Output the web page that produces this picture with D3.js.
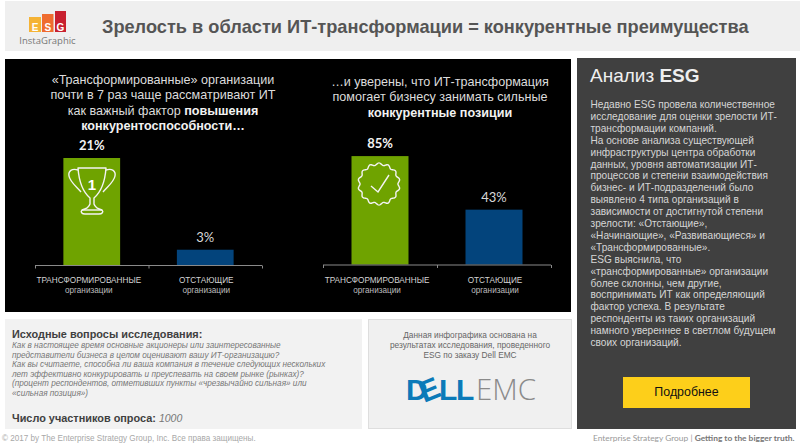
<!DOCTYPE html>
<html lang="ru"><head><meta charset="utf-8">
<script src="https://cdn.jsdelivr.net/npm/d3@7"></script>
<style>html,body{margin:0;padding:0;background:#fff}svg{display:block}text{font-family:"Liberation Sans",Arial,sans-serif}</style>
</head><body><svg id="c" width="800" height="444"></svg>
<script>
const categories=["ТРАНСФОРМИРОВАННЫЕ","ОТСТАЮЩИЕ"];
const categorySub=["организации","организации"];
const valuesLeft=[21,3];
const valuesRight=[85,43];
const colors=["#6fa300","#03447c"];
const titleText="Зрелость в области ИТ-трансформации = конкурентные преимущества";
const headLeft=[["«Трансформированные» организации"],["почти в 7 раз чаще рассматривают ИТ"],["как важный фактор ","повышения"],["","конкурентоспособности…"]];
const headRight=[["…и уверены, что ИТ-трансформация"],["помогает бизнесу занимать сильные"],["","конкурентные позиции"]];
const bodyLines=["Недавно ESG провела количественное","исследование для оценки зрелости ИТ-","трансформации компаний.","На основе анализа существующей","инфраструктуры центра обработки","данных, уровня автоматизации ИТ-","процессов и степени взаимодействия","бизнес- и ИТ-подразделений было","выявлено 4 типа организаций в","зависимости от достигнутой степени","зрелости: «Отстающие»,","«Начинающие», «Развивающиеся» и","«Трансформированные».","ESG выяснила, что","«трансформированные» организации","более склонны, чем другие,","воспринимать ИТ как определяющий","фактор успеха. В результате","респонденты из таких организаций","намного увереннее в светлом будущем","своих организаций."];
const questionLines=["Как в настоящее время основные акционеры или заинтересованные","представители бизнеса в целом оценивают вашу ИТ-организацию?","Как вы считаете, способна ли ваша компания в течение следующих нескольких","лет эффективно конкурировать и преуспевать на своем рынке (рынках)?","(процент респондентов, отметивших пункты «чрезвычайно сильная» или","«сильная позиция»)"];
const sponsorLines=["Данная инфографика основана на","результатах исследования, проведенного","ESG по заказу Dell EMC"];

const svg=d3.select("#c");
const T=(x,y,s,o={})=>svg.append("text").attr("x",x).attr("y",y).text(s)
  .attr("font-size",o.size||10).attr("fill",o.fill||"#000").attr("text-anchor",o.anchor||"start")
  .attr("font-weight",o.weight||"normal").attr("font-style",o.style||"normal").style("font-family",o.family||null);
const R=(x,y,w,h,f,st)=>svg.append("rect").attr("x",x).attr("y",y).attr("width",w).attr("height",h).attr("fill",f).attr("stroke",st||"none");

// panels
R(5,1,795,50,"#efefef");
R(5,59,566,253,"#000");
R(577,58,219,371,"#404040");
R(5,319,357,110,"#f2f2f2");
R(368.5,319.5,203,109,"#f0f0f0","#dedede");

// logo
[[29,17,12,15,"#f5b335","E"],[42,14,11.5,18,"#ef6c2f","S"],[55,11,11,21,"#c8202f","G"]].forEach(d=>{
  R(d[0],d[1],d[2],d[3],d[4]);
  T(d[0]+d[2]/2,31,d[5],{size:10,fill:"#fff",weight:"bold",anchor:"middle"});
});
T(47.5,44,"InstaGraphic",{size:9.5,fill:"#777",anchor:"middle",family:"'Open Sans'"});
T(102,33,titleText,{size:18.2,fill:"#555",weight:"bold"});

// headings
function heading(lines,cx,y0,dy){
  lines.forEach((l,i)=>{
    const t=T(cx,y0+i*dy,null,{size:12.6,anchor:"middle",fill:"#dcdcdc"});
    t.append("tspan").text(l[0]);
    if(l[1]) t.append("tspan").attr("font-weight","bold").attr("fill","#f2f2f2").text(l[1]);
  });
}
heading(headLeft,163,84,15.3);
heading(headRight,440,86,15.4);

// charts
function chart(vals,x0,x1,base,pxMax,vMax){
  const x=d3.scaleBand().domain(categories).range([x0,x1]).paddingInner(.5).paddingOuter(.25);
  const y=d3.scaleLinear().domain([0,vMax]).range([base,base-pxMax]);
  const g=svg.append("g");
  g.selectAll("rect").data(vals).join("rect")
    .attr("x",(d,i)=>x(categories[i])).attr("width",x.bandwidth())
    .attr("y",d=>y(d)).attr("height",d=>base-y(d)).attr("fill",(d,i)=>colors[i]);
  g.selectAll("text.v").data(vals).join("text").attr("class","v")
    .attr("x",(d,i)=>x(categories[i])+x.bandwidth()/2).attr("y",d=>y(d)-8)
    .attr("text-anchor","middle").attr("fill",(d,i)=>i?"#d8d8d8":"#f2f2f2").attr("font-size",13)
    .attr("font-weight",(d,i)=>i?"normal":"bold").style("font-family","Lato").text(d=>d+"%");
  const b=d3.scaleLinear().domain([0,1]).range([x0,x1]);
  const ax=svg.append("g").attr("transform",`translate(0,${base+.5})`)
    .call(d3.axisBottom(b).tickValues([0,.5,1]).tickSize(3).tickFormat(""));
  ax.selectAll("path").attr("stroke","#8a8a8a").attr("d",`M${x0},0H${x1}`);
  ax.selectAll("line").attr("stroke","#8a8a8a");
  categories.forEach((c,i)=>{
    const cx=x(c)+x.bandwidth()/2-(i?-1:3);
    T(cx,base+18,c,{size:8.2,anchor:"middle",fill:"#d4d4d4"});
    T(cx,base+28,categorySub[i],{size:8.2,anchor:"middle",fill:"#bdbdbd"});
  });
  return {x,y};
}
chart(valuesLeft,35,262,265,107,21);
chart(valuesRight,323,551,264.5,108.4,85);

// trophy icon
const tro=svg.append("g").attr("transform","translate(92,168)").attr("fill","none").attr("stroke","#f4f4f4").attr("stroke-width",1.4).attr("stroke-linejoin","round");
tro.append("path").attr("d","M-14,0H14C13,14 9,24 2,30V36C3,39 6,41 10,42C12,44 10,46 7,46H-7C-10,46 -12,44 -10,42C-6,41 -3,39 -2,36V30C-9,24 -13,14 -14,0Z");
tro.append("path").attr("d","M-14,2C-20,0 -24,3 -23,8C-22,14 -15,19 -11,24");
tro.append("path").attr("d","M14,2C20,0 24,3 23,8C22,14 15,19 11,24");
tro.append("path").attr("d","M-10,42H10");
tro.append("text").attr("x",0).attr("y",22).attr("text-anchor","middle").attr("fill","#fff").attr("stroke","none").attr("font-size",15).attr("font-weight","bold").text("1");

// badge icon
const n=14,pts=[];
for(let i=0;i<n*8;i++){pts.push([i/(n*8)*2*Math.PI,20+1.1*Math.cos(i/8*2*Math.PI)]);}
const bad=svg.append("g").attr("transform","translate(379,184)").attr("fill","none").attr("stroke","#f4f4f4").attr("stroke-width",1.4);
bad.append("path").attr("d",d3.lineRadial().curve(d3.curveCardinalClosed)(pts));
bad.append("path").attr("d","M-8,2L-1,8L10,-9");

// analysis panel
const an=T(590,82,"Анализ ",{size:19,fill:"#efefef"});
an.append("tspan").attr("font-weight","bold").text("ESG");
bodyLines.forEach((l,i)=>T(590.5,108+i*11.9,l,{size:10.1,fill:"#d6d6d6"}));
R(623,377,127,31,"#fdcf1a");
T(686.5,395.5,"Подробнее",{size:12.4,anchor:"middle",fill:"#111"});

// questions
T(12,338,"Исходные вопросы исследования:",{size:10.9,weight:"bold",fill:"#404040"});
questionLines.forEach((l,i)=>T(12,348+i*9.6,l,{size:8.2,style:"italic",fill:"#777"}));
const nn=T(12,422,"Число участников опроса: ",{size:10.9,weight:"bold",fill:"#404040"});
nn.append("tspan").attr("font-weight","normal").attr("font-style","italic").attr("fill","#777").attr("font-size",10.5).text("1000");

// sponsor
sponsorLines.forEach((l,i)=>T(470,338+i*9.9,l,{size:8.3,anchor:"middle",fill:"#666"}));
const dell=svg.append("g");
[["D",406,0],["E",423.5,-22],["L",439,0],["L",456,0]].forEach(d=>{
  dell.append("text").attr("transform",`translate(${d[1]+8},400) rotate(${d[2]}) translate(-8,0)`)
    .attr("font-size",30).attr("font-weight","bold").attr("fill","#0b7ab8").text(d[0]);
});
T(476,400,"EMC",{size:29.5,fill:"#8a8a8a",family:"'Open Sans'"}).attr("font-weight",300);

// footers
T(2,441,"© 2017 by The Enterprise Strategy Group, Inc. Все права защищены.",{size:8.15,fill:"#a8a8a8"});
const fr=T(593,441,"Enterprise Strategy Group | ",{size:8.4,fill:"#999",family:"Lato"});
fr.append("tspan").attr("font-weight","bold").attr("fill","#777").text("Getting to the bigger truth.");
</script></body></html>
